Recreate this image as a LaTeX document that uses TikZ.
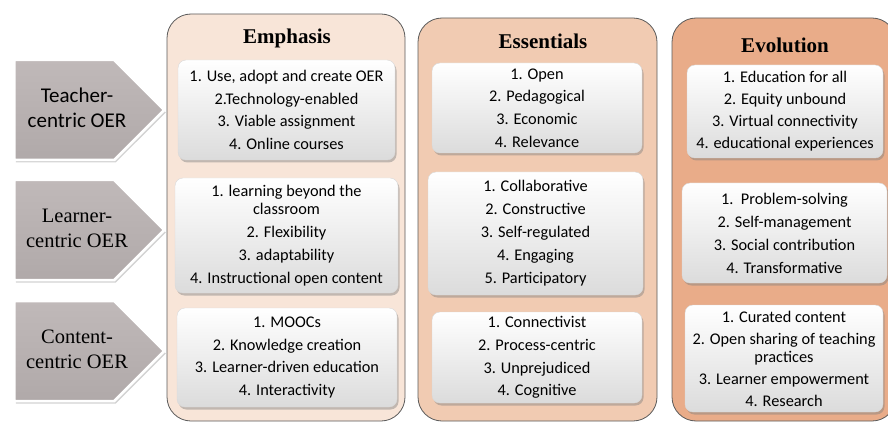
\documentclass[tikz,border=0pt]{standalone}
\usepackage{fontspec}
\setmainfont{Liberation Serif}
\newfontfamily\carlito{Carlito}
\usepackage{tikz}
\usetikzlibrary{shapes, shapes.symbols, shadows, positioning}
\definecolor{emphbg}{RGB}{248,229,216}
\definecolor{essbg}{RGB}{241,203,178}
\definecolor{evobg}{RGB}{233,172,137}
\definecolor{framegray}{RGB}{90,90,90}
\definecolor{tagtop}{RGB}{192,185,185}
\definecolor{tagbottom}{RGB}{176,169,169}
\tikzstyle{column} = [rectangle, rounded corners=24pt, draw=framegray, line width=0.8pt]
\tikzstyle{heading} = [font=\fontsize{21}{23}\selectfont\bfseries]
\tikzstyle{itembox} = [rectangle, rounded corners=8pt, draw=black!15, top color=white, middle color=white, bottom color=black!14, drop shadow={shadow xshift=1.5pt, shadow yshift=-2.5pt, opacity=0.45}, align=center, inner sep=0pt, font=\carlito\fontsize{16.3}{18}\selectfont]
\tikzstyle{tag} = [signal, signal to=east, signal pointer angle=90, minimum width=150pt, minimum height=100pt, inner sep=0pt, top color=tagtop, bottom color=tagbottom, draw=white, line width=2.5pt, drop shadow={shadow xshift=1.5pt, shadow yshift=-2.5pt, opacity=0.35}]
\tikzstyle{tagtext} = [align=center, font=\fontsize{20.5}{25}\selectfont]

\begin{document}
\begin{tikzpicture}[x=1pt, y=-1pt]

    \useasboundingbox (0,0) rectangle (888,422);
    \clip (0,0) rectangle (888,422);

    \node (emph) [column, fill=emphbg, minimum width=238pt, minimum height=407pt] at (286,217.5) {};
    \node (ess) [column, fill=essbg, minimum width=239pt, minimum height=403pt] at (537.5,219.5) {};
    \node (evo) [column, fill=evobg, minimum width=224pt, minimum height=403pt] at (784,219.5) {};

    \node (emphtitle) [heading] at (287,38) {Emphasis};
    \node (esstitle) [heading] at (543,41) {Essentials};
    \node (evotitle) [heading] at (785,45) {Evolution};

    \node (emph1) [itembox, minimum width=217pt, minimum height=100pt] at (286.5,110) {1. Use, adopt and create OER\\[4.7pt] 2.Technology-enabled\\[4.7pt] 3. Viable assignment\\[4.7pt] 4. Online courses};
    \node (emph2) [itembox, minimum width=223pt, minimum height=115pt] at (286.5,235.5) {1. learning beyond the\\ classroom\\[5pt] 2. Flexibility\\[5pt] 3. adaptability\\[5pt] 4. Instructional open content};
    \node (emph3) [itembox, minimum width=220pt, minimum height=99pt] at (287,357.5) {1. MOOCs\\[4.7pt] 2. Knowledge creation\\[4.7pt] 3. Learner-driven education\\[4.7pt] 4. Interactivity};

    \node (ess1) [itembox, minimum width=210pt, minimum height=90pt] at (537,108) {1. Open\\[4.7pt] 2. Pedagogical\\[4.7pt] 3. Economic\\[4.7pt] 4. Relevance};
    \node (ess2) [itembox, minimum width=215pt, minimum height=123pt] at (535.5,233.5) {1. Collaborative\\[5pt] 2. Constructive\\[5pt] 3. Self-regulated\\[5pt] 4. Engaging\\[5pt] 5. Participatory};
    \node (ess3) [itembox, minimum width=210pt, minimum height=91pt] at (537,357.5) {1. Connectivist\\[4.7pt] 2. Process-centric\\[4.7pt] 3. Unprejudiced\\[4.7pt] 4. Cognitive};

    \node (evo1) [itembox, minimum width=196pt, minimum height=93pt] at (785,111.5) {1. Education for all\\[4pt] 2. Equity unbound\\[4pt] 3. Virtual connectivity\\[4pt] 4. educational experiences};
    \node (evo2) [itembox, minimum width=205pt, minimum height=100pt] at (784.5,233) {1.\ \ Problem-solving\\[5pt] 2. Self-management\\[5pt] 3. Social contribution\\[5pt] 4. Transformative};
    \node (evo3) [itembox, minimum width=198pt, minimum height=107pt] at (784,358.5) {1. Curated content\\[4pt] 2. Open sharing of teaching\\ practices\\[4pt] 3. Learner empowerment\\[4pt] 4. Research};

    \node (teacher) [tag, anchor=west] at (13,110) {};
    \node (learner) [tag, anchor=west] at (13,230) {};
    \node (content) [tag, anchor=west] at (13,351) {};

    \node (teachertxt) [tagtext, font=\carlito\fontsize{21}{25}\selectfont] at ([xshift=64pt, yshift=2pt]teacher.west) {Teacher-\\centric OER};
    \node (learnertxt) [tagtext] at ([xshift=64pt, yshift=2pt]learner.west) {Learner-\\centric OER};
    \node (contenttxt) [tagtext] at ([xshift=64pt, yshift=2pt]content.west) {Content-\\centric OER};

\end{tikzpicture}
\end{document}
